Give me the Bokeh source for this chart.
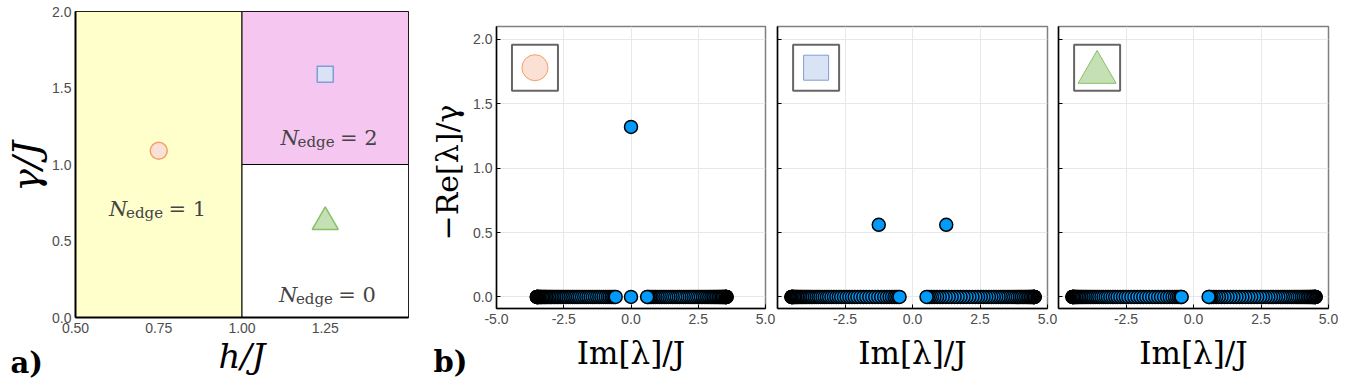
from math import pi
from bokeh.plotting import figure
from bokeh.layouts import row
from bokeh.models import FixedTicker, Label, Range1d
from bokeh.core.properties import value
from bokeh.embed import file_html
from bokeh.resources import INLINE

# ---------------- panel a data ----------------
h_ticks = [0.5, 0.75, 1.0, 1.25]
h_tick_labels = ["0.50", "0.75", "1.00", "1.25"]
g_ticks = [0.0, 0.5, 1.0, 1.5, 2.0]
g_tick_labels = ["0.0", "0.5", "1.0", "1.5", "2.0"]

region_left = [0.5, 1.0, 1.0]
region_right = [1.0, 1.5, 1.5]
region_bottom = [0.0, 1.0, 0.0]
region_top = [2.0, 2.0, 1.0]
region_colors = ["#FFFFCC", "#F5C6F0", "#FFFFFF"]

phase_numbers = ["1", "2", "0"]
phase_label_x = [0.745, 1.26, 1.255]
phase_label_y = [0.712, 1.17, 0.144]

marker_h = [0.75, 1.25, 1.25]
marker_g = [1.09, 1.59, 0.625]
marker_kind = ["circle", "square", "triangle"]
marker_fill = ["#FBE0D6", "#DAE3F3", "#C5E0B4"]
marker_line = ["#F4A064", "#7F9ED9", "#86C068"]

# ---------------- panel b data ----------------
im_ticks = [-5.0, -2.5, 0.0, 2.5, 5.0]
im_tick_labels = ["-5.0", "-2.5", "0.0", "2.5", "5.0"]
re_ticks = [0.0, 0.5, 1.0, 1.5, 2.0]
re_tick_labels = ["0.0", "0.5", "1.0", "1.5", "2.0"]

# spectrum 1 (circle point)
s1_left = [-3.50, -3.50, -3.49, -3.49, -3.48, -3.47, -3.46, -3.45, -3.44, -3.42, -3.40, -3.38,
           -3.36, -3.34, -3.32, -3.29, -3.26, -3.23, -3.20, -3.17, -3.14, -3.10, -3.06, -3.02,
           -2.98, -2.94, -2.89, -2.84, -2.79, -2.74, -2.69, -2.63, -2.57, -2.51, -2.45, -2.39,
           -2.32, -2.25, -2.18, -2.11, -2.04, -1.97, -1.90, -1.82, -1.74, -1.66, -1.58, -1.50,
           -1.42, -1.34, -1.26, -1.18, -1.10, -1.02, -0.94, -0.86, -0.79, -0.72, -0.66, -0.61,
           -0.57]
s1_right = [3.55, 3.55, 3.54, 3.54, 3.53, 3.52, 3.51, 3.50, 3.48, 3.46, 3.44, 3.42, 3.40, 3.37,
            3.34, 3.31, 3.28, 3.25, 3.21, 3.17, 3.13, 3.09, 3.05, 3.00, 2.95, 2.90, 2.85, 2.79,
            2.73, 2.67, 2.61, 2.55, 2.48, 2.41, 2.34, 2.27, 2.20, 2.12, 2.04, 1.96, 1.88, 1.80,
            1.72, 1.64, 1.55, 1.47, 1.39, 1.31, 1.23, 1.15, 1.07, 0.99, 0.91, 0.84, 0.77, 0.71,
            0.66, 0.62, 0.60]
s1_edge_im = [0.0, 0.0]
s1_edge_re = [0.0, 1.32]

# spectrum 2 (square point)
s2_left = [-4.48, -4.48, -4.47, -4.47, -4.46, -4.45, -4.44, -4.43, -4.41, -4.39, -4.37, -4.35,
           -4.32, -4.29, -4.26, -4.23, -4.19, -4.15, -4.11, -4.07, -4.02, -3.97, -3.92, -3.87,
           -3.81, -3.75, -3.69, -3.62, -3.55, -3.48, -3.41, -3.33, -3.25, -3.17, -3.09, -3.00,
           -2.91, -2.82, -2.73, -2.64, -2.54, -2.44, -2.34, -2.24, -2.14, -2.04, -1.93, -1.82,
           -1.71, -1.60, -1.49, -1.38, -1.27, -1.16, -1.05, -0.95, -0.85, -0.76, -0.67, -0.60,
           -0.53, -0.48]
s2_right = [4.52, 4.52, 4.51, 4.51, 4.50, 4.49, 4.48, 4.47, 4.45, 4.43, 4.41, 4.38, 4.35, 4.32,
            4.29, 4.25, 4.21, 4.17, 4.12, 4.07, 4.02, 3.97, 3.91, 3.85, 3.79, 3.72, 3.65, 3.58,
            3.51, 3.43, 3.35, 3.27, 3.19, 3.10, 3.01, 2.92, 2.83, 2.73, 2.63, 2.53, 2.43, 2.33,
            2.22, 2.11, 2.00, 1.89, 1.78, 1.67, 1.56, 1.45, 1.34, 1.23, 1.12, 1.01, 0.91, 0.81,
            0.72, 0.64, 0.57, 0.52]
s2_edge_im = [-1.25, 1.25]
s2_edge_re = [0.56, 0.56]

# spectrum 3 (triangle point)
s3_left = [-4.48, -4.48, -4.47, -4.47, -4.46, -4.45, -4.44, -4.42, -4.40, -4.38, -4.36, -4.34,
           -4.31, -4.28, -4.25, -4.21, -4.17, -4.13, -4.09, -4.04, -3.99, -3.94, -3.88, -3.82,
           -3.76, -3.70, -3.63, -3.56, -3.49, -3.41, -3.33, -3.25, -3.17, -3.08, -2.99, -2.90,
           -2.81, -2.71, -2.61, -2.51, -2.41, -2.30, -2.19, -2.08, -1.97, -1.86, -1.75, -1.64,
           -1.53, -1.42, -1.31, -1.20, -1.09, -0.98, -0.88, -0.78, -0.69, -0.61, -0.54, -0.48,
           -0.45, -0.44]
s3_right = [4.52, 4.52, 4.51, 4.51, 4.50, 4.49, 4.48, 4.46, 4.44, 4.42, 4.40, 4.37, 4.34, 4.31,
            4.27, 4.23, 4.19, 4.15, 4.10, 4.05, 4.00, 3.94, 3.88, 3.82, 3.76, 3.69, 3.62, 3.55,
            3.47, 3.39, 3.31, 3.23, 3.14, 3.05, 2.96, 2.87, 2.77, 2.67, 2.57, 2.47, 2.36, 2.25,
            2.14, 2.03, 1.92, 1.81, 1.70, 1.59, 1.48, 1.37, 1.26, 1.15, 1.04, 0.94, 0.84, 0.75,
            0.67, 0.61, 0.58, 0.56]
s3_edge_im = []
s3_edge_re = []

spectra = [
    (s1_left + s1_right + s1_edge_im, [0.0] * (len(s1_left) + len(s1_right)) + s1_edge_re),
    (s2_left + s2_right + s2_edge_im, [0.0] * (len(s2_left) + len(s2_right)) + s2_edge_re),
    (s3_left + s3_right + s3_edge_im, [0.0] * (len(s3_left) + len(s3_right)) + s3_edge_re),
]

# ---------------- styling / layout constants ----------------
TICK_FONT = "Liberation Sans"
TICK_COLOR = "#4D4D4D"
SERIF = "DejaVu Serif"
POINT_COLOR = "#009AFA"
TOTAL_H = 378

INSET_X = -3.57
INSET_Y = 1.78
INSET_SIZES = [26, 25, 38]
INSET_DY = [0.0, 0.0, -0.036]


def text_strip(width, items):
    """A bare figure (no axes) used to hold side texts: axis titles and panel letters."""
    p = figure(frame_width=width, frame_height=TOTAL_H, min_border=0, min_border_left=0,
               min_border_right=0, min_border_top=0, min_border_bottom=0, frame_align=False,
               x_range=Range1d(0, width), y_range=Range1d(0, TOTAL_H),
               x_axis_location=None, y_axis_location=None,
               output_backend="svg", toolbar_location=None)
    p.grid.visible = False
    p.outline_line_color = None
    for (tx, ty, txt, size, style, ang, align, base) in items:
        p.text(x=[tx], y=[ty], text=[txt], text_font=value(SERIF), text_font_size=value(size),
               text_font_style=value(style), angle=ang, text_align=value(align),
               text_baseline=value(base), text_color="black")
    return p


# ---------------- left text strip (γ/J and a)) ----------------
strip_a = text_strip(48, [
    (25, TOTAL_H - 166, "γ/J", "38px", "italic", pi / 2, "center", "middle"),
    (10, TOTAL_H - 362, "a)", "29px", "bold", 0.0, "left", "alphabetic"),
])

# ---------------- panel a ----------------
pa = figure(frame_width=333, frame_height=306, min_border_left=27, min_border_right=20,
            min_border_top=11, min_border_bottom=TOTAL_H - 317, frame_align=False,
            x_range=Range1d(0.5, 1.5), y_range=Range1d(0.0, 2.0),
            output_backend="svg", toolbar_location=None)
pa.grid.visible = False
pa.outline_line_color = "black"
pa.outline_line_width = 1

pa.xaxis.ticker = FixedTicker(ticks=h_ticks)
pa.xaxis.major_label_overrides = dict(zip(h_ticks, h_tick_labels))
pa.yaxis.ticker = FixedTicker(ticks=g_ticks)
pa.yaxis.major_label_overrides = dict(zip(g_ticks, g_tick_labels))
for ax in (pa.xaxis, pa.yaxis):
    ax.axis_line_color = "black"
    ax.axis_line_width = 2
    ax.major_tick_in = 0
    ax.major_tick_out = 0
    ax.minor_tick_in = 0
    ax.minor_tick_out = 0
    ax.major_label_text_font = TICK_FONT
    ax.major_label_text_font_size = "14px"
    ax.major_label_text_color = TICK_COLOR
pa.xaxis.major_label_standoff = 5
pa.yaxis.major_label_standoff = 4
pa.xaxis.axis_label = "h/J"
pa.xaxis.axis_label_text_font = SERIF
pa.xaxis.axis_label_text_font_style = "italic"
pa.xaxis.axis_label_text_color = "black"
pa.xaxis.axis_label_text_font_size = "34px"
pa.xaxis.axis_label_standoff = 0

pa.quad(left=region_left, right=region_right, bottom=region_bottom, top=region_top,
        fill_color=region_colors, line_color="black", line_width=1)

pa.scatter(x=marker_h, y=marker_g, marker=marker_kind, size=[17, 16, 26],
           fill_color=marker_fill, line_color=marker_line, line_width=1.5)

for lx, ly, num in zip(phase_label_x, phase_label_y, phase_numbers):
    pa.add_layout(Label(x=lx, y=ly, x_offset=-48, text="N", text_font=SERIF,
                        text_font_style="italic", text_font_size="21px",
                        text_baseline="alphabetic", text_align="left"))
    pa.add_layout(Label(x=lx, y=ly, x_offset=-31, y_offset=-4, text="edge", text_font=SERIF,
                        text_font_size="15px", text_baseline="alphabetic", text_align="left"))
    pa.add_layout(Label(x=lx, y=ly, x_offset=49, text="= " + num, text_font=SERIF,
                        text_font_size="21px", text_baseline="alphabetic", text_align="right"))

# ---------------- middle text strip (−Re[λ]/γ and b)) ----------------
strip_b = text_strip(42, [
    (19, TOTAL_H - 172, "−Re[λ]/γ", "30px", "normal", pi / 2, "center", "middle"),
    (5, TOTAL_H - 361, "b)", "29px", "bold", 0.0, "left", "alphabetic"),
])


# ---------------- panel b ----------------
def make_b(idx, left, right, frame_w, show_y):
    p = figure(frame_width=frame_w, frame_height=282, min_border_left=left,
               min_border_right=right, min_border_top=26, min_border_bottom=TOTAL_H - 308,
               frame_align=False,
               x_range=Range1d(-5.0, 5.0), y_range=Range1d(-0.09, 2.1),
               output_backend="svg", toolbar_location=None)
    p.outline_line_color = "#808080"
    p.outline_line_width = 1.5
    p.grid.grid_line_color = "#E8E8E8"
    p.grid.grid_line_width = 1
    if idx == 0:
        xt = im_ticks
        xl = im_tick_labels
    else:
        xt = im_ticks[1:]
        xl = im_tick_labels[1:]
    p.xaxis.ticker = FixedTicker(ticks=xt)
    p.xaxis.major_label_overrides = dict(zip(xt, xl))
    p.yaxis.ticker = FixedTicker(ticks=re_ticks)
    if show_y:
        p.yaxis.major_label_overrides = dict(zip(re_ticks, re_tick_labels))
        p.yaxis.major_label_standoff = 4
    else:
        p.yaxis.major_label_overrides = dict(zip(re_ticks, [""] * len(re_ticks)))
        p.yaxis.major_label_standoff = 0
    p.xaxis.axis_label = "Im[λ]/J"
    p.xaxis.axis_label_text_font = SERIF
    p.xaxis.axis_label_text_font_style = "normal"
    p.xaxis.axis_label_text_font_size = "31px"
    p.xaxis.axis_label_text_color = "black"
    p.xaxis.axis_label_standoff = 8
    p.xaxis.major_label_standoff = 5
    for ax in (p.xaxis, p.yaxis):
        ax.axis_line_color = "black"
        ax.axis_line_width = 1.5
        ax.major_tick_in = 4
        ax.major_tick_out = 0
        ax.major_tick_line_color = "black"
        ax.minor_tick_in = 0
        ax.minor_tick_out = 0
        ax.major_label_text_font = TICK_FONT
        ax.major_label_text_font_size = "14px"
        ax.major_label_text_color = TICK_COLOR

    xs, ys = spectra[idx]
    p.scatter(x=xs, y=ys, size=13, fill_color=POINT_COLOR, line_color="black", line_width=1.5)

    p.rect(x=[INSET_X], y=[INSET_Y], width=46, height=46, width_units="screen",
           height_units="screen", fill_color="white", line_color="#666666", line_width=2)
    p.scatter(x=[INSET_X], y=[INSET_Y + INSET_DY[idx]], marker=marker_kind[idx],
              size=INSET_SIZES[idx], fill_color=marker_fill[idx], line_color=marker_line[idx],
              line_width=1)
    return p


pb1 = make_b(0, 25, 11, 269, True)
pb2 = make_b(1, 1, 10, 270, False)
pb3 = make_b(2, 1, 10, 270, False)

layout = row(strip_a, pa, strip_b, pb1, pb2, pb3)
open("out.html", "w").write(file_html(layout, INLINE))
